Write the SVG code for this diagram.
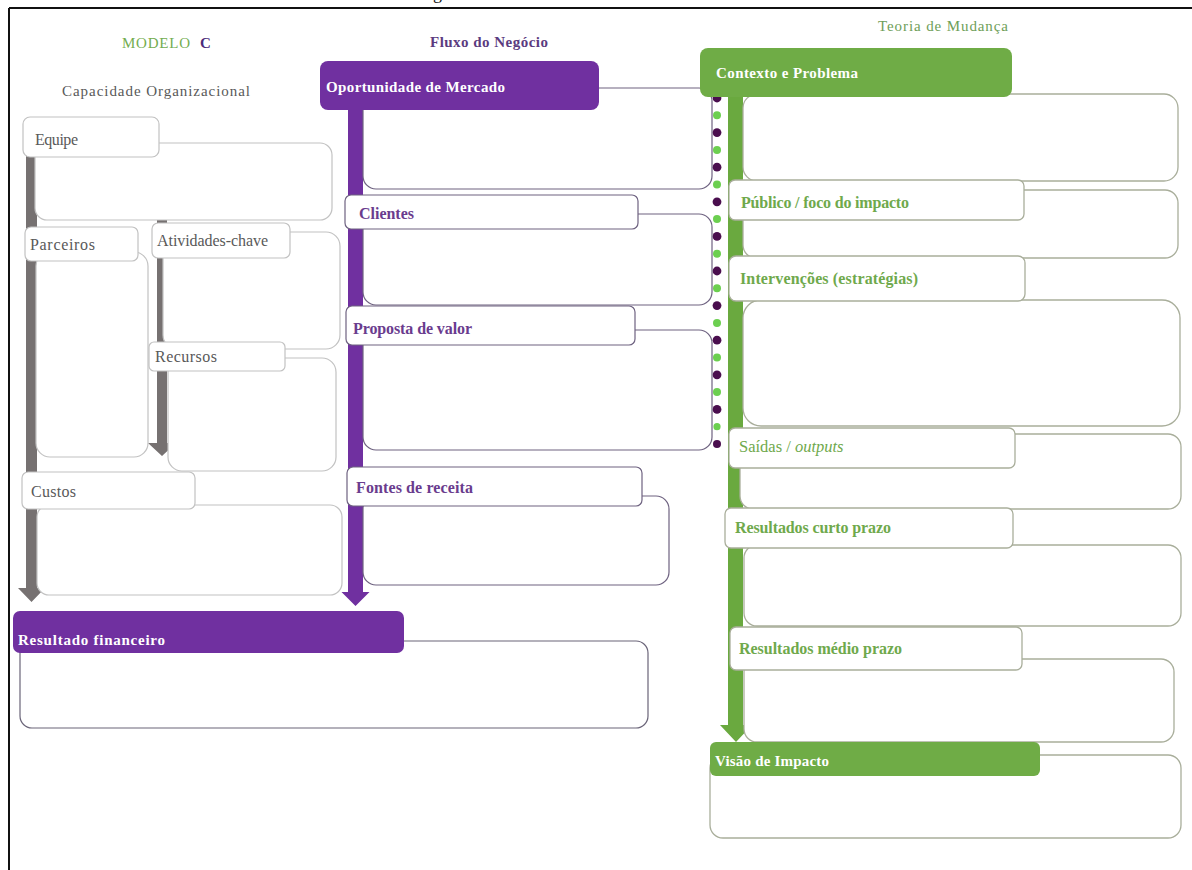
<svg xmlns="http://www.w3.org/2000/svg" width="1192" height="870" viewBox="0 0 1192 870">
  <style>
    text { font-family: "Liberation Serif", "Times New Roman", serif; font-size: 16px; }
    .lbl-g { fill: #ffffff; stroke: #c2c2c2; stroke-width: 1.2; }
    .box-g { fill: #ffffff; stroke: #c2c2c2; stroke-width: 1.2; }
    .lbl-p { fill: #ffffff; stroke: #6e6280; stroke-width: 1.2; }
    .box-p { fill: #ffffff; stroke: #6e6280; stroke-width: 1.2; }
    .lbl-v { fill: #ffffff; stroke: #a9ae9b; stroke-width: 1.3; }
    .box-v { fill: #ffffff; stroke: #a9ae9b; stroke-width: 1.3; }
    .head-p { fill: #7030a0; }
    .head-v { fill: #6fac46; }
    .t-gray { fill: #595959; }
    .t-purple { fill: #6a3c8e; font-weight: bold; }
    .t-green { fill: #6fa94c; font-weight: bold; }
    .t-head { fill: #ffffff; font-weight: bold; font-size: 15px; }
    .dot-dark { fill: #4a0e4e; }
    .dot-light { fill: #6ccf50; }
  </style>

  <!-- page frame -->
  <g id="frame">
    <line x1="9" y1="8" x2="1192" y2="8" stroke="#111" stroke-width="2"/>
    <line x1="9" y1="8" x2="9" y2="870" stroke="#111" stroke-width="2"/>
    <text x="433" y="-1" style="font-size:18px" fill="#111">g</text>
  </g>

  <!-- column titles -->
  <g id="titles">
    <text x="122" y="48" style="font-size:15px" fill="#74ad4f" textLength="68">MODELO</text>
    <text x="200" y="48" style="font-size:15px;font-weight:bold" fill="#4b2b7a">C</text>
    <text x="62" y="96" class="t-gray" style="font-size:15px" textLength="188">Capacidade  Organizacional</text>
    <text x="430" y="47" style="font-size:15px;font-weight:bold" fill="#5b3b7f" textLength="118">Fluxo do Negócio</text>
    <text x="878" y="31" style="font-size:15px" fill="#6e9e58" textLength="130">Teoria de Mudança</text>
  </g>

  <!-- flow arrows and the dotted link between the two right columns -->
  <g id="connectors">
    <path d="M26,150 H37 V588 H45 L31.5,602 L18,588 H26 Z" fill="#767171"/>
    <path d="M157,218 H167 V443 H176 L162,456 L148,443 H157 Z" fill="#767171"/>
    <path d="M348,105 H363 V592 H369.5 L355.5,606 L341.5,592 H348 Z" fill="#7030a0"/>
    <path d="M728,95 H743 V725 H752 L736,742 L720,725 H728 Z" fill="#6aa93f"/>
    <g id="dots">
      <circle class="dot-dark" cx="717" cy="98" r="4.4"/>
      <circle class="dot-light" cx="717" cy="115.3" r="4"/>
      <circle class="dot-dark" cx="717" cy="132.6" r="4.4"/>
      <circle class="dot-light" cx="717" cy="149.9" r="4"/>
      <circle class="dot-dark" cx="717" cy="167.2" r="4.4"/>
      <circle class="dot-light" cx="717" cy="184.5" r="4"/>
      <circle class="dot-dark" cx="717" cy="201.8" r="4.4"/>
      <circle class="dot-light" cx="717" cy="219.1" r="4"/>
      <circle class="dot-dark" cx="717" cy="236.4" r="4.4"/>
      <circle class="dot-light" cx="717" cy="253.7" r="4"/>
      <circle class="dot-dark" cx="717" cy="271" r="4.4"/>
      <circle class="dot-light" cx="717" cy="288.3" r="4"/>
      <circle class="dot-dark" cx="717" cy="305.6" r="4.4"/>
      <circle class="dot-light" cx="717" cy="322.9" r="4"/>
      <circle class="dot-dark" cx="717" cy="340.2" r="4.4"/>
      <circle class="dot-light" cx="717" cy="357.5" r="4"/>
      <circle class="dot-dark" cx="717" cy="374.8" r="4.4"/>
      <circle class="dot-light" cx="717" cy="392.1" r="4"/>
      <circle class="dot-dark" cx="717" cy="409.4" r="4.4"/>
      <circle class="dot-light" cx="717" cy="426.7" r="3.6"/>
      <circle class="dot-dark" cx="717" cy="444" r="4"/>
    </g>
  </g>

  <!-- Capacidade Organizacional -->
  <g id="equipe">
    <rect class="box-g" x="35" y="143" width="297" height="77" rx="12"/>
    <rect class="lbl-g" x="23" y="117" width="136" height="40" rx="7"/>
    <text class="t-gray" x="35" y="145" textLength="43">Equipe</text>
  </g>
  <g id="parceiros">
    <rect class="box-g" x="36" y="252" width="112" height="205" rx="14"/>
    <rect class="lbl-g" x="25" y="227" width="113" height="34" rx="6"/>
    <text class="t-gray" x="30" y="250" textLength="65">Parceiros</text>
  </g>
  <g id="atividades-chave">
    <rect class="box-g" x="163" y="232" width="177" height="117" rx="14"/>
    <rect class="lbl-g" x="152" y="223" width="138" height="35" rx="6"/>
    <text class="t-gray" x="157" y="246" textLength="111">Atividades-chave</text>
  </g>
  <g id="recursos">
    <rect class="box-g" x="168" y="358" width="168" height="113" rx="14"/>
    <rect class="lbl-g" x="149" y="342" width="136" height="29" rx="5"/>
    <text class="t-gray" x="155" y="362" textLength="62">Recursos</text>
  </g>
  <g id="custos">
    <rect class="box-g" x="37" y="505" width="305" height="90" rx="12"/>
    <rect class="lbl-g" x="22" y="472" width="173" height="37" rx="6"/>
    <text class="t-gray" x="31" y="497" textLength="45">Custos</text>
  </g>
  <g id="resultado-financeiro">
    <rect x="20" y="641" width="628" height="87" rx="12" fill="#ffffff" stroke="#6a6478" stroke-width="1.2"/>
    <rect class="head-p" x="13" y="611" width="391" height="42" rx="7"/>
    <text class="t-head" x="18" y="645" textLength="147">Resultado  financeiro</text>
  </g>

  <!-- Fluxo do Negócio -->
  <g id="oportunidade-de-mercado">
    <rect class="box-p" x="363" y="88" width="349" height="101" rx="13"/>
    <rect class="head-p" x="320" y="61" width="279" height="49" rx="8"/>
    <text class="t-head" x="326" y="92" textLength="179">Oportunidade  de Mercado</text>
  </g>
  <g id="clientes">
    <rect class="box-p" x="363" y="214" width="349" height="91" rx="13"/>
    <rect class="lbl-p" x="345" y="195" width="293" height="34" rx="6"/>
    <text class="t-purple" x="359" y="219" textLength="55">Clientes</text>
  </g>
  <g id="proposta-de-valor">
    <rect class="box-p" x="363" y="330" width="349" height="120" rx="13"/>
    <rect class="lbl-p" x="346" y="306" width="289" height="39" rx="6"/>
    <text class="t-purple" x="353" y="334" textLength="119">Proposta de valor</text>
  </g>
  <g id="fontes-de-receita">
    <rect class="box-p" x="363" y="496" width="306" height="89" rx="13"/>
    <rect class="lbl-p" x="347" y="467" width="295" height="39" rx="6"/>
    <text class="t-purple" x="356" y="493" textLength="117">Fontes de receita</text>
  </g>

  <!-- Teoria de Mudança -->
  <g id="contexto-e-problema">
    <rect class="box-v" x="743" y="94" width="435" height="87" rx="14"/>
    <rect class="head-v" x="700" y="48" width="312" height="49" rx="8"/>
    <text class="t-head" x="716" y="78" textLength="142">Contexto  e Problema</text>
  </g>
  <g id="publico">
    <rect class="box-v" x="743" y="190" width="435" height="68" rx="13"/>
    <rect class="lbl-v" x="729" y="180" width="295" height="40" rx="6"/>
    <text class="t-green" x="741" y="208" textLength="168">Público / foco do impacto</text>
  </g>
  <g id="intervencoes">
    <rect class="box-v" x="743" y="300" width="437" height="126" rx="18"/>
    <rect class="lbl-v" x="729" y="256" width="296" height="45" rx="7"/>
    <text class="t-green" x="740" y="284" textLength="178">Intervenções  (estratégias)</text>
  </g>
  <g id="saidas">
    <rect class="box-v" x="740" y="434" width="441" height="75" rx="13"/>
    <rect class="lbl-v" x="729" y="428" width="286" height="40" rx="6"/>
    <text x="739" y="452" fill="#6fa94c" style="font-size:16.5px">Saídas / <tspan font-style="italic">outputs</tspan></text>
  </g>
  <g id="resultados-curto-prazo">
    <rect class="box-v" x="744" y="545" width="437" height="81" rx="13"/>
    <rect class="lbl-v" x="725" y="508" width="288" height="40" rx="6"/>
    <text class="t-green" x="735" y="533" textLength="156">Resultados curto prazo</text>
  </g>
  <g id="resultados-medio-prazo">
    <rect class="box-v" x="744" y="659" width="430" height="83" rx="13"/>
    <rect class="lbl-v" x="730" y="627" width="292" height="43" rx="6"/>
    <text class="t-green" x="739" y="654" textLength="163">Resultados médio prazo</text>
  </g>
  <g id="visao-de-impacto">
    <rect class="box-v" x="710" y="755" width="471" height="83" rx="13"/>
    <rect class="head-v" x="710" y="742" width="330" height="34" rx="6"/>
    <text class="t-head" x="715" y="766" textLength="114">Visão de Impacto</text>
  </g>
</svg>
